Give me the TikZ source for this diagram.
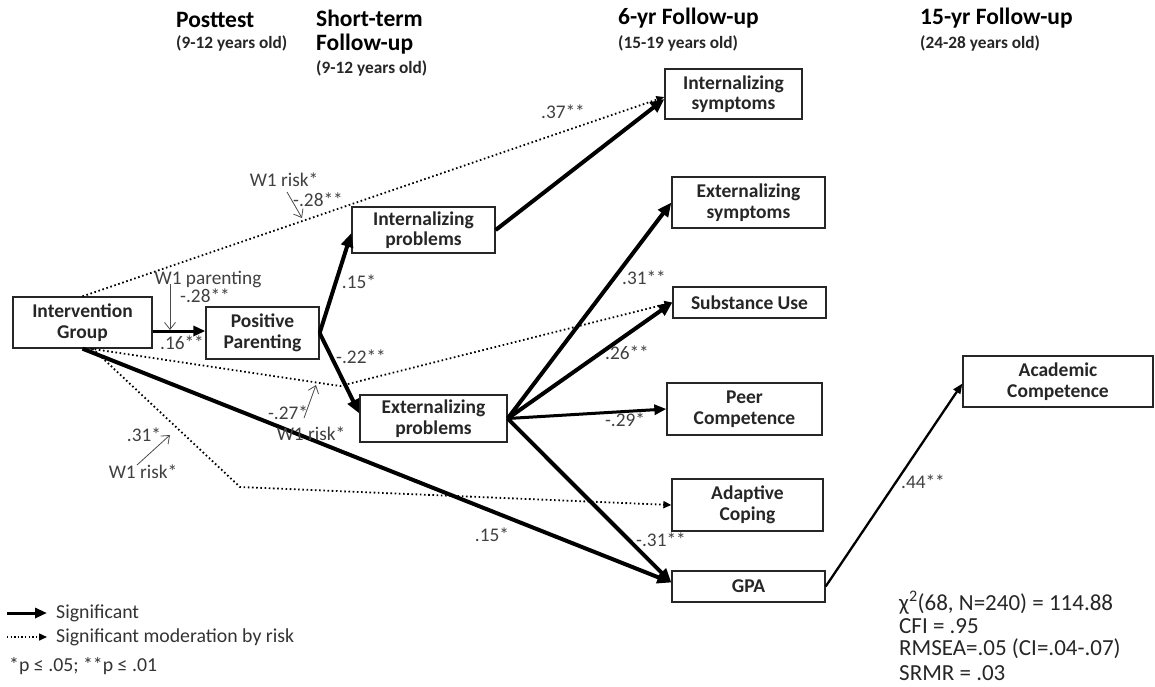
\documentclass[tikz,border=0pt]{standalone}
\usepackage{fontspec}
\setmainfont{Carlito}
\usetikzlibrary{arrows.meta,calc}
\begin{document}
\begin{tikzpicture}[x=1pt,y=-1pt,
  box/.style={draw=black!85,line width=1.3pt,fill=white,font=\fontsize{19.5}{20.5}\selectfont\bfseries,align=center,inner sep=0pt,text=black!85},
  hdr/.style={anchor=west,inner sep=0pt,font=\fontsize{23.5}{25}\selectfont\bfseries},
  sub/.style={anchor=west,inner sep=0pt,font=\fontsize{17.3}{18}\selectfont\bfseries,text=black!85},
  lab/.style={inner sep=0pt,font=\fontsize{19.3}{20}\selectfont,text=black!75},
  leg/.style={anchor=west,inner sep=0pt,font=\fontsize{19.8}{21}\selectfont,text=black!80},
  stat/.style={anchor=west,inner sep=0pt,font=\fontsize{23}{24}\selectfont,text=black!85},
  sig/.style={line width=4pt,-{Triangle[length=14pt,width=12pt]}},
  sigmid/.style={line width=3pt,-{Triangle[length=12pt,width=10pt]}},
  sigthin/.style={line width=2.3pt,-{Triangle[length=10pt,width=8pt]}},
  mod/.style={line width=1.8pt,dash pattern=on 1.6pt off 2.6pt,-{Triangle[length=8pt,width=7pt]}},
  modarr/.style={line width=0.8pt,draw=black!70,-{Straight Barb[length=7pt,width=11pt]}}
]
\useasboundingbox (0,0) rectangle (1155,686);

% headers
\node[hdr] (h1) at (176,20) {Posttest};
\node[sub] (h1s) at (176,43) {(9-12 years old)};
\node[hdr] (h2) at (316,18) {Short-term};
\node[hdr] (h2b) at (316,44) {Follow-up};
\node[sub] (h2s) at (316,68) {(9-12 years old)};
\node[hdr] (h3) at (618,18) {6-yr Follow-up};
\node[sub] (h3s) at (618,43) {(15-19 years old)};
\node[hdr] (h4) at (920,18) {15-yr Follow-up};
\node[sub] (h4s) at (920,43) {(24-28 years old)};

% boxes
\node[box,minimum width=139pt,minimum height=51pt] (ig) at (82.5,322.5) {Intervention\\Group};
\node[box,minimum width=113pt,minimum height=52pt] (pp) at (262.5,333) {Positive\\Parenting};
\node[box,minimum width=143pt,minimum height=46pt] (ip) at (423.5,230) {Internalizing\\problems};
\node[box,minimum width=147pt,minimum height=47pt] (ep) at (433.5,418.5) {Externalizing\\problems};
\node[box,minimum width=137pt,minimum height=50pt] (is) at (733.5,94) {Internalizing\\symptoms};
\node[box,minimum width=153pt,minimum height=51pt] (es) at (748.5,202.5) {Externalizing\\symptoms};
\node[box,minimum width=153pt,minimum height=31pt] (su) at (749.5,302.5) {Substance Use};
\node[box,minimum width=155pt,minimum height=52pt] (pc) at (744.5,409) {Peer\\Competence};
\node[box,minimum width=151pt,minimum height=52pt] (ac) at (747.5,505) {Adaptive\\Coping};
\node[box,minimum width=153pt,minimum height=31pt] (gpa) at (748.5,586.5) {GPA};
\node[box,minimum width=190pt,minimum height=51pt] (acad) at (1058,381.5) {Academic\\Competence};

% corners of dotted paths
\coordinate (c1) at (340,386);
\coordinate (c2) at (240,487);

% dotted moderated paths
\draw[mod] (ig.north) -- ([yshift=-3pt]is.west);
\draw[mod] ([xshift=8pt]ig.south) -- (c1) -- (su.west);
\draw[mod] ([xshift=10pt]ig.south) -- (c2) -- (ac.west);

% significant paths
\draw[sigmid] ([yshift=-8.5pt]ig.east) -- ([yshift=2pt]pp.west);
\draw[sig] (pp.east) -- ([yshift=-3pt]ip.west);
\draw[sig] (pp.east) -- ([yshift=5pt]ep.west);
\draw[sig] (ip.east) -- ([yshift=-5pt]is.west);
\draw[sig] (ep.east) -- (es.west);
\draw[sig] (ep.east) -- (su.west);
\draw[sigmid] (ep.east) -- (pc.west);
\draw[sig] (ep.east) -- ([yshift=4pt]gpa.west);
\draw[sig] (ig.south) -- ([yshift=4pt]gpa.west);
\draw[sigthin] (gpa.east) -- ([yshift=-2pt]acad.west);

% path labels
\node[lab] (l16) at (182,343) {.16**};
\node[lab] (l15a) at (359,282) {.15*};
\node[lab] (l22) at (361,357) {-.22**};
\node[lab] (l37) at (563,112) {.37**};
\node[lab] (l31a) at (644,278) {.31**};
\node[lab] (l26) at (627,353) {.26**};
\node[lab] (l29) at (625,420) {-.29*};
\node[lab] (l31b) at (661,540) {-.31**};
\node[lab] (l15b) at (492,535) {.15*};
\node[lab] (l44) at (923,482) {.44**};

% moderation labels and arrows
\node[lab] (mwp) at (208,279) {W1 parenting};
\node[lab] (mwpv) at (205,296) {-.28**};
\coordinate (m1s) at (170,284);
\coordinate (m1e) at (170,330);
\draw[modarr] (m1s) -- (m1e);

\node[lab] (mr1) at (284,180) {W1 risk*};
\node[lab] (mr1v) at (318,200) {-.28**};
\coordinate (m2s) at (287,192);
\coordinate (m2e) at (302,218);
\draw[modarr] (m2s) -- (m2e);

\node[lab] (mr2v) at (288,413) {-.27*};
\node[lab] (mr2) at (311,434) {W1 risk*};
\coordinate (m3s) at (304,418);
\coordinate (m3e) at (316,385);
\draw[modarr] (m3s) -- (m3e);

\node[lab] (mr3v) at (144,435) {.31*};
\node[lab] (mr3) at (143,472) {W1 risk*};
\coordinate (m4s) at (137,465);
\coordinate (m4e) at (170,435);
\draw[modarr] (m4s) -- (m4e);

% legend
\coordinate (lg1a) at (7,613);
\coordinate (lg1b) at (47,613);
\coordinate (lg2a) at (7,637);
\coordinate (lg2b) at (47,637);
\draw[line width=3pt,-{Triangle[length=12pt,width=10pt]}] (lg1a) -- (lg1b);
\draw[line width=1.5pt,dash pattern=on 1.4pt off 2.2pt,-{Triangle[length=8pt,width=7pt]}] (lg2a) -- (lg2b);
\node[leg] (lgt1) at (56,613) {Significant};
\node[leg] (lgt2) at (56,637) {Significant moderation by risk};
\node[leg] (lgt3) at (9,666) {*p ≤ .05; **p ≤ .01};

% fit statistics
\node[stat] (s1) at (899,603) {χ\textsuperscript{2}(68, N=240) = 114.88};
\node[stat] (s2) at (899,626) {CFI = .95};
\node[stat] (s3) at (899,649) {RMSEA=.05 (CI=.04-.07)};
\node[stat] (s4) at (899,673) {SRMR = .03};
\end{tikzpicture}
\end{document}
